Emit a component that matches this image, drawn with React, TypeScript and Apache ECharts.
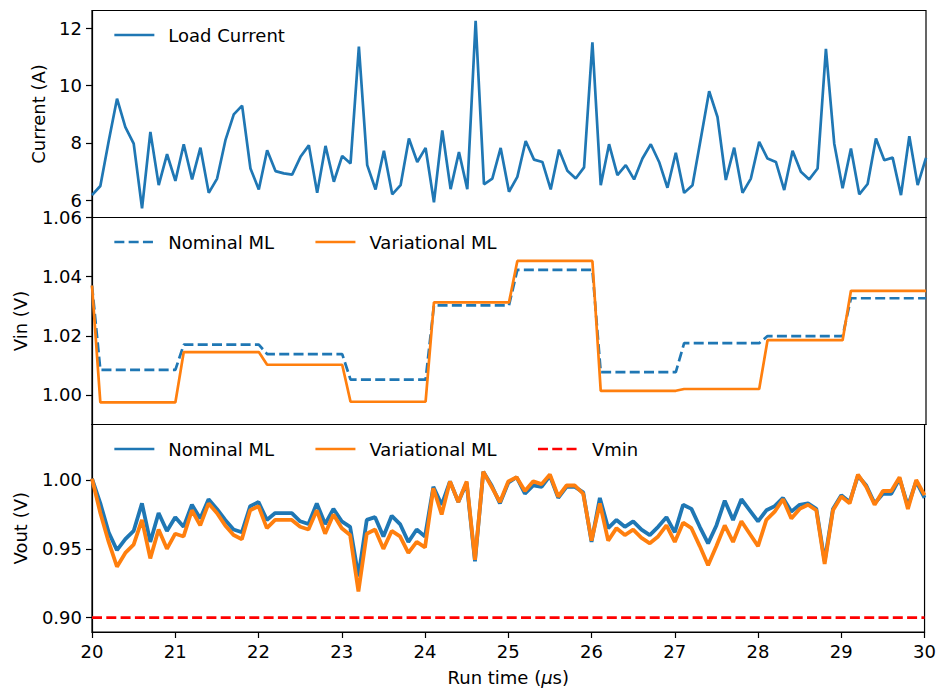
import React, { useEffect, useRef } from 'react';
import * as echarts from 'echarts';

// sample grid (µs)
const T_START = 20;
const T_STEP = 0.1;

// Load current (A), one value per 0.1 µs from 20.0 to 30.0
const loadCurrent = [
  6.17, 6.49, 8.05, 9.54, 8.55, 7.97, 5.71, 8.38, 6.52, 7.60,
  6.67, 7.95, 6.72, 7.83, 6.25, 6.75, 8.09, 8.99, 9.30, 7.10,
  6.37, 7.74, 7.01, 6.93, 6.89, 7.51, 7.91, 6.25, 7.89, 6.64,
  7.54, 7.28, 11.36, 7.22, 6.37, 7.72, 6.20, 6.52, 8.15, 7.33,
  7.82, 5.92, 8.43, 6.38, 7.68, 6.38, 12.26, 6.55, 6.75, 7.82,
  6.29, 6.81, 8.06, 7.41, 7.33, 6.37, 7.76, 7.02, 6.75, 7.14,
  11.51, 6.52, 7.95, 6.87, 7.22, 6.72, 7.45, 7.95, 7.33, 6.43,
  7.65, 6.25, 6.52, 8.15, 9.80, 8.90, 6.70, 7.83, 6.25, 6.75,
  8.03, 7.45, 7.33, 6.35, 7.72, 6.99, 6.72, 7.10, 11.28, 7.97,
  6.41, 7.80, 6.20, 6.56, 8.15, 7.39, 7.48, 6.17, 8.23, 6.52,
  7.47,
];

// Vin (V): start value, then one level per 1 µs segment
const vinStart = 1.037;
const vinNominalLevels = [1.0085, 1.017, 1.0138, 1.0052, 1.0303, 1.0423, 1.0077, 1.0175, 1.0199, 1.0327];
const vinVariationalLevels = [0.9975, 1.0145, 1.0102, 0.9977, 1.0313, 1.0453, 1.0014, 1.0020, 1.0185, 1.0352];

// Vout (V), one value per 0.1 µs
const voutNominal = [
  1.001, 0.983, 0.962, 0.949, 0.957, 0.963, 0.983, 0.955, 0.976, 0.963,
  0.973, 0.966, 0.982, 0.972, 0.986, 0.979, 0.971, 0.964, 0.962, 0.981,
  0.984, 0.971, 0.976, 0.976, 0.976, 0.970, 0.968, 0.983, 0.968, 0.979,
  0.970, 0.966, 0.930, 0.971, 0.973, 0.959, 0.974, 0.968, 0.955, 0.964,
  0.959, 0.995, 0.982, 0.999, 0.984, 0.998, 0.941, 1.006, 0.996, 0.983,
  0.998, 1.002, 0.990, 0.996, 0.995, 1.003, 0.987, 0.995, 0.995, 0.991,
  0.955, 0.987, 0.965, 0.971, 0.966, 0.970, 0.964, 0.960, 0.966, 0.973,
  0.962, 0.982, 0.979, 0.966, 0.954, 0.967, 0.985, 0.971, 0.986, 0.978,
  0.970, 0.978, 0.981, 0.987, 0.977, 0.982, 0.983, 0.979, 0.941, 0.979,
  0.989, 0.984, 1.003, 0.996, 0.983, 0.990, 0.990, 1.001, 0.981, 0.999,
  0.987,
];
const voutVariational = [
  1.001, 0.976, 0.955, 0.937, 0.947, 0.953, 0.971, 0.943, 0.964, 0.950,
  0.961, 0.959, 0.978, 0.967, 0.983, 0.976, 0.967, 0.960, 0.957, 0.978,
  0.981, 0.965, 0.971, 0.971, 0.971, 0.966, 0.964, 0.978, 0.961, 0.975,
  0.965, 0.960, 0.919, 0.961, 0.964, 0.950, 0.963, 0.959, 0.947, 0.955,
  0.951, 0.994, 0.975, 0.999, 0.984, 0.999, 0.942, 1.006, 0.995, 0.984,
  0.999, 1.002, 0.992, 0.999, 0.997, 1.004, 0.988, 0.996, 0.996, 0.990,
  0.956, 0.983, 0.956, 0.965, 0.960, 0.964, 0.958, 0.954, 0.959, 0.967,
  0.955, 0.969, 0.965, 0.952, 0.938, 0.952, 0.967, 0.955, 0.970, 0.961,
  0.952, 0.971, 0.977, 0.986, 0.972, 0.979, 0.982, 0.978, 0.939, 0.978,
  0.988, 0.983, 1.004, 0.995, 0.982, 0.992, 0.992, 1.002, 0.979, 1.000,
  0.989,
];
const vmin = 0.9;

// axis ticks
const xTicks = [20, 21, 22, 23, 24, 25, 26, 27, 28, 29, 30];
const currentTicks = [6, 8, 10, 12];
const vinTicks = [1.0, 1.02, 1.04, 1.06];
const voutTicks = [0.9, 0.95, 1.0];

const BLUE = '#1f77b4';
const ORANGE = '#ff7f0e';
const RED = '#ff0000';
const FONT = 'DejaVu Sans';
const FS = 18;

const toPairs = (vals: number[]) =>
  vals.map((v, i) => [Number((T_START + i * T_STEP).toFixed(2)), v]);

const stepPairs = (start: number, levels: number[]) => {
  const out: number[][] = [[T_START, start]];
  levels.forEach((lv, k) => {
    out.push([T_START + k + 0.1, lv]);
    out.push([T_START + k + 1, lv]);
  });
  return out;
};

export default function App() {
  const ref = useRef<HTMLDivElement>(null);
  useEffect(() => {
    if (!ref.current) return;
    const chart = echarts.init(ref.current, undefined, { renderer: 'svg' });
    const grids = [
      { left: 92, width: 834, top: 10.5, height: 207 },
      { left: 92, width: 834, top: 217.5, height: 207 },
      { left: 92, width: 834, top: 424.5, height: 207.5 },
    ].map((g) => ({ ...g, show: true, borderColor: '#000', borderWidth: 1.2, backgroundColor: 'transparent' }));

    const tickStyle = { color: '#000', width: 1.2 };

    const xAxes = [0, 1, 2].map((i) => {
      const show = i === 2;
      return {
        type: 'value',
        gridIndex: i,
        min: 20,
        max: 30,
        interval: 1,
        axisLine: { show: true, lineStyle: tickStyle },
        axisTick: { show, length: 6, customValues: xTicks, lineStyle: tickStyle },
        axisLabel: { show, color: '#000', fontSize: FS, fontFamily: FONT, margin: 10, customValues: xTicks },
        splitLine: { show: false },
        ...(show
          ? {
              name: 'Run time ({i|μ}s)',
              nameLocation: 'middle',
              nameGap: 36,
              nameTextStyle: {
                color: '#000',
                fontSize: FS,
                fontFamily: FONT,
                rich: { i: { fontStyle: 'italic', fontSize: FS, fontFamily: FONT, color: '#000' } },
              },
            }
          : {}),
      };
    });

    const baseY = (
      i: number, min: number, max: number, ticks: number[], name: string, gap: number,
      fmt: (v: number) => string,
    ) => ({
      type: 'value',
      gridIndex: i,
      min,
      max,
      name,
      nameLocation: 'middle',
      nameGap: gap,
      nameTextStyle: { color: '#000', fontSize: FS, fontFamily: FONT },
      axisLine: { show: true, lineStyle: tickStyle },
      axisTick: { show: true, length: 6, customValues: ticks, lineStyle: tickStyle },
      axisLabel: {
        color: '#000', fontSize: FS, fontFamily: FONT, margin: 10, lineHeight: 15,
        customValues: ticks, formatter: fmt,
      },
      splitLine: { show: false },
    });

    const hiddenSymbol = { opacity: 0, color: 'rgba(0,0,0,0)', borderColor: 'rgba(0,0,0,0)', borderWidth: 0 };

    const legendBase = {
      orient: 'horizontal',
      left: 108,
      itemWidth: 40,
      itemHeight: 14,
      itemGap: 40,
      selectedMode: false,
      itemStyle: hiddenSymbol,
      textStyle: { color: '#000', fontSize: FS, fontFamily: FONT, padding: [0, 0, 0, 9] },
      formatter: (n: string) => n.replace(/^Vout /, ''),
    };

    const dashed = [10, 4.3];
    const item = (name: string, color: string, type: any) => ({
      name,
      itemStyle: hiddenSymbol,
      lineStyle: { color, width: 2.7, type, opacity: 1 },
    });

    chart.setOption({
      animation: false,
      backgroundColor: '#fff',
      textStyle: { fontFamily: FONT },
      grid: grids,
      xAxis: xAxes,
      yAxis: [
        baseY(0, 5.39, 12.62, currentTicks, 'Current (A)', 44.5, (v) => String(v)),
        baseY(1, 0.99, 1.06, vinTicks, 'Vin (V)', 63, (v) => v.toFixed(2)),
        baseY(2, 0.8896, 1.0403, voutTicks, 'Vout (V)', 63, (v) => v.toFixed(2)),
      ],
      legend: [
        {
          ...legendBase,
          top: 21,
          data: [item('Load Current', BLUE, 'solid')],
        },
        {
          ...legendBase,
          top: 228,
          data: [item('Nominal ML', BLUE, dashed), item('Variational ML', ORANGE, 'solid')],
        },
        {
          ...legendBase,
          top: 435,
          data: [
            item('Vout Nominal ML', BLUE, 'solid'),
            item('Vout Variational ML', ORANGE, 'solid'),
            item('Vmin', RED, dashed),
          ],
        },
      ],
      series: [
        {
          name: 'Load Current', type: 'line', xAxisIndex: 0, yAxisIndex: 0, symbol: 'none',
          data: toPairs(loadCurrent), lineStyle: { color: BLUE, width: 2.7 }, itemStyle: { color: BLUE },
        },
        {
          name: 'Nominal ML', type: 'line', xAxisIndex: 1, yAxisIndex: 1, symbol: 'none',
          data: stepPairs(vinStart, vinNominalLevels), lineStyle: { color: BLUE, width: 2.7, type: dashed }, itemStyle: { color: BLUE },
        },
        {
          name: 'Variational ML', type: 'line', xAxisIndex: 1, yAxisIndex: 1, symbol: 'none',
          data: stepPairs(vinStart, vinVariationalLevels), lineStyle: { color: ORANGE, width: 2.7 }, itemStyle: { color: ORANGE },
        },
        {
          name: 'Vout Nominal ML', type: 'line', xAxisIndex: 2, yAxisIndex: 2, symbol: 'none',
          data: toPairs(voutNominal), lineStyle: { color: BLUE, width: 3.8 }, itemStyle: { color: BLUE },
        },
        {
          name: 'Vout Variational ML', type: 'line', xAxisIndex: 2, yAxisIndex: 2, symbol: 'none',
          data: toPairs(voutVariational), lineStyle: { color: ORANGE, width: 3.8 }, itemStyle: { color: ORANGE },
        },
        {
          name: 'Vmin', type: 'line', xAxisIndex: 2, yAxisIndex: 2, symbol: 'none',
          data: [[20, vmin], [30, vmin]], lineStyle: { color: RED, width: 2.7, type: dashed }, itemStyle: { color: RED },
        },
      ],
    });
    return () => chart.dispose();
  }, []);
  return (
    <div
      ref={ref}
      style={{ position: 'absolute', left: 0, top: 0, width: 939, height: 689, background: '#fff' }}
    />
  );
}
